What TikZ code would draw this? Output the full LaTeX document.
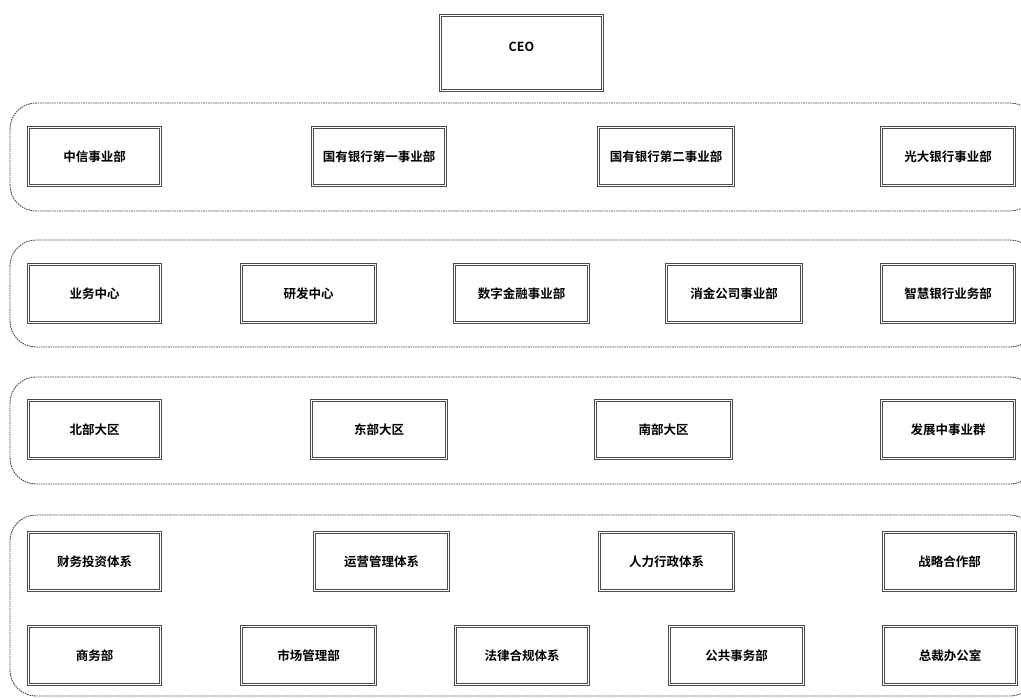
\documentclass[tikz,border=0pt]{standalone}
\usepackage{fontspec}
\setmainfont{Noto Sans CJK SC}[BoldFont={Noto Sans CJK SC Bold}]
\begin{document}
\begin{tikzpicture}[x=1pt,y=-1pt,
  box/.style={draw=black!70, double=white, double distance=1.4pt, line width=0.9pt,
    inner sep=0pt, font=\fontsize{12.5}{14}\selectfont\bfseries, text=black},
  group/.style={draw=black!70, line width=0.9pt, dash pattern=on 1.6pt off 0.8pt, rounded corners=26pt}]
\useasboundingbox (0,0) rectangle (1021,699);
\clip (0,0) rectangle (1021,699);
\newcommand\bx[6]{\node[box, minimum width={#3-#2-3}, minimum height={#5-#4-3}] (#1) at ({(#2+#3)/2},{(#4+#5)/2}) {#6};}
% groups
\draw[group] (10,103) rectangle (1036,211);
\draw[group] (10,240) rectangle (1036,347);
\draw[group] (10,377) rectangle (1036,484);
\draw[group] (10,515) rectangle (1036,696);
% CEO
\bx{ceo}{439}{604}{14}{92}{\raisebox{13pt}{CEO}}
% row 1
\bx{a1}{27}{162}{126}{187}{中信事业部}
\bx{a2}{311}{447}{126}{187}{国有银行第一事业部}
\bx{a3}{597}{735}{126}{187}{国有银行第二事业部}
\bx{a4}{880}{1016}{126}{187}{光大银行事业部}
% row 2
\bx{b1}{27}{162}{263}{324}{业务中心}
\bx{b2}{240}{377}{263}{324}{研发中心}
\bx{b3}{453}{590}{263}{324}{数字金融事业部}
\bx{b4}{665}{803}{263}{324}{消金公司事业部}
\bx{b5}{880}{1016}{263}{324}{智慧银行业务部}
% row 3
\bx{c1}{27}{162}{399}{460}{北部大区}
\bx{c2}{310}{448}{399}{460}{东部大区}
\bx{c3}{594}{733}{399}{460}{南部大区}
\bx{c4}{880}{1016}{399}{460}{发展中事业群}
% row 4a
\bx{d1}{27}{162}{531}{592}{财务投资体系}
\bx{d2}{313}{450}{531}{592}{运营管理体系}
\bx{d3}{598}{735}{531}{592}{人力行政体系}
\bx{d4}{882}{1017}{531}{592}{战略合作部}
% row 4b
\bx{e1}{27}{162}{625}{686}{商务部}
\bx{e2}{240}{377}{625}{686}{市场管理部}
\bx{e3}{454}{590}{625}{686}{法律合规体系}
\bx{e4}{668}{805}{625}{686}{公共事务部}
\bx{e5}{882}{1018}{625}{686}{总裁办公室}
\end{tikzpicture}
\end{document}
